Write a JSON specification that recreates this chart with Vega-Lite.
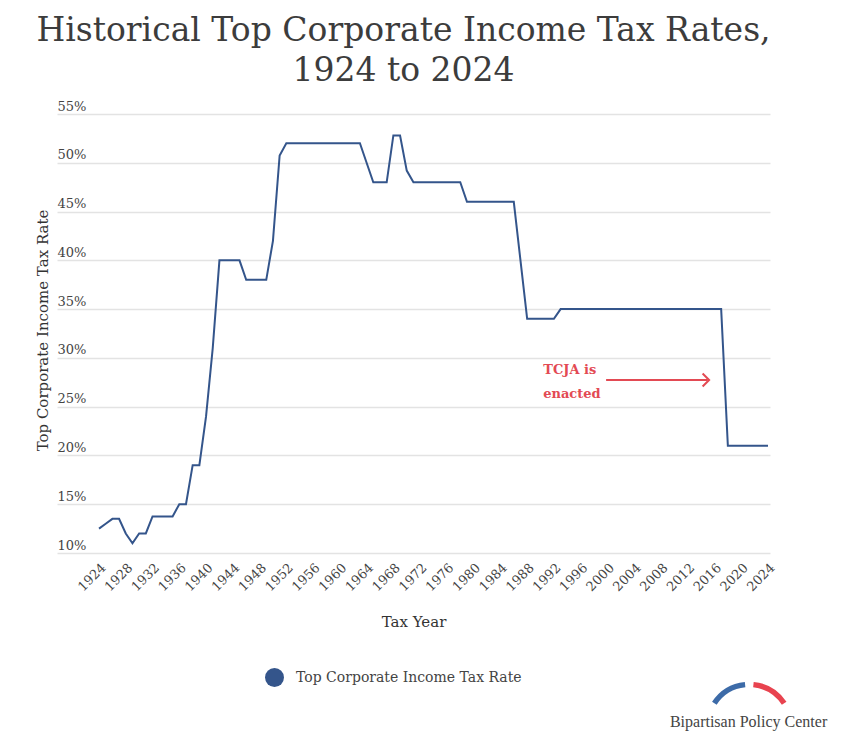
{
  "$schema": "https://vega.github.io/schema/vega-lite/v6.json",
  "width": 713,
  "height": 439,
  "autosize": {"type": "none"},
  "padding": {"left": 57, "top": 114, "right": 81, "bottom": 187},
  "background": "white",
  "title": {
    "text": ["Historical Top Corporate Income Tax Rates,", "1924 to 2024"],
    "font": "DejaVu Serif",
    "fontSize": 33,
    "fontWeight": "normal",
    "color": "#3c3c3c",
    "lineHeight": 40,
    "anchor": "middle",
    "frame": "group",
    "offset": 12,
    "dx": -10
  },
  "config": {"view": {"stroke": null}, "font": "DejaVu Serif"},
  "layer": [
    {
      "data": {
        "values": [
          {"year": 1924, "rate": 12.5, "series": "Top Corporate Income Tax Rate"},
          {"year": 1925, "rate": 13, "series": "Top Corporate Income Tax Rate"},
          {"year": 1926, "rate": 13.5, "series": "Top Corporate Income Tax Rate"},
          {"year": 1927, "rate": 13.5, "series": "Top Corporate Income Tax Rate"},
          {"year": 1928, "rate": 12, "series": "Top Corporate Income Tax Rate"},
          {"year": 1929, "rate": 11, "series": "Top Corporate Income Tax Rate"},
          {"year": 1930, "rate": 12, "series": "Top Corporate Income Tax Rate"},
          {"year": 1931, "rate": 12, "series": "Top Corporate Income Tax Rate"},
          {"year": 1932, "rate": 13.75, "series": "Top Corporate Income Tax Rate"},
          {"year": 1933, "rate": 13.75, "series": "Top Corporate Income Tax Rate"},
          {"year": 1934, "rate": 13.75, "series": "Top Corporate Income Tax Rate"},
          {"year": 1935, "rate": 13.75, "series": "Top Corporate Income Tax Rate"},
          {"year": 1936, "rate": 15, "series": "Top Corporate Income Tax Rate"},
          {"year": 1937, "rate": 15, "series": "Top Corporate Income Tax Rate"},
          {"year": 1938, "rate": 19, "series": "Top Corporate Income Tax Rate"},
          {"year": 1939, "rate": 19, "series": "Top Corporate Income Tax Rate"},
          {"year": 1940, "rate": 24, "series": "Top Corporate Income Tax Rate"},
          {"year": 1941, "rate": 31, "series": "Top Corporate Income Tax Rate"},
          {"year": 1942, "rate": 40, "series": "Top Corporate Income Tax Rate"},
          {"year": 1943, "rate": 40, "series": "Top Corporate Income Tax Rate"},
          {"year": 1944, "rate": 40, "series": "Top Corporate Income Tax Rate"},
          {"year": 1945, "rate": 40, "series": "Top Corporate Income Tax Rate"},
          {"year": 1946, "rate": 38, "series": "Top Corporate Income Tax Rate"},
          {"year": 1947, "rate": 38, "series": "Top Corporate Income Tax Rate"},
          {"year": 1948, "rate": 38, "series": "Top Corporate Income Tax Rate"},
          {"year": 1949, "rate": 38, "series": "Top Corporate Income Tax Rate"},
          {"year": 1950, "rate": 42, "series": "Top Corporate Income Tax Rate"},
          {"year": 1951, "rate": 50.75, "series": "Top Corporate Income Tax Rate"},
          {"year": 1952, "rate": 52, "series": "Top Corporate Income Tax Rate"},
          {"year": 1953, "rate": 52, "series": "Top Corporate Income Tax Rate"},
          {"year": 1954, "rate": 52, "series": "Top Corporate Income Tax Rate"},
          {"year": 1955, "rate": 52, "series": "Top Corporate Income Tax Rate"},
          {"year": 1956, "rate": 52, "series": "Top Corporate Income Tax Rate"},
          {"year": 1957, "rate": 52, "series": "Top Corporate Income Tax Rate"},
          {"year": 1958, "rate": 52, "series": "Top Corporate Income Tax Rate"},
          {"year": 1959, "rate": 52, "series": "Top Corporate Income Tax Rate"},
          {"year": 1960, "rate": 52, "series": "Top Corporate Income Tax Rate"},
          {"year": 1961, "rate": 52, "series": "Top Corporate Income Tax Rate"},
          {"year": 1962, "rate": 52, "series": "Top Corporate Income Tax Rate"},
          {"year": 1963, "rate": 52, "series": "Top Corporate Income Tax Rate"},
          {"year": 1964, "rate": 50, "series": "Top Corporate Income Tax Rate"},
          {"year": 1965, "rate": 48, "series": "Top Corporate Income Tax Rate"},
          {"year": 1966, "rate": 48, "series": "Top Corporate Income Tax Rate"},
          {"year": 1967, "rate": 48, "series": "Top Corporate Income Tax Rate"},
          {"year": 1968, "rate": 52.8, "series": "Top Corporate Income Tax Rate"},
          {"year": 1969, "rate": 52.8, "series": "Top Corporate Income Tax Rate"},
          {"year": 1970, "rate": 49.2, "series": "Top Corporate Income Tax Rate"},
          {"year": 1971, "rate": 48, "series": "Top Corporate Income Tax Rate"},
          {"year": 1972, "rate": 48, "series": "Top Corporate Income Tax Rate"},
          {"year": 1973, "rate": 48, "series": "Top Corporate Income Tax Rate"},
          {"year": 1974, "rate": 48, "series": "Top Corporate Income Tax Rate"},
          {"year": 1975, "rate": 48, "series": "Top Corporate Income Tax Rate"},
          {"year": 1976, "rate": 48, "series": "Top Corporate Income Tax Rate"},
          {"year": 1977, "rate": 48, "series": "Top Corporate Income Tax Rate"},
          {"year": 1978, "rate": 48, "series": "Top Corporate Income Tax Rate"},
          {"year": 1979, "rate": 46, "series": "Top Corporate Income Tax Rate"},
          {"year": 1980, "rate": 46, "series": "Top Corporate Income Tax Rate"},
          {"year": 1981, "rate": 46, "series": "Top Corporate Income Tax Rate"},
          {"year": 1982, "rate": 46, "series": "Top Corporate Income Tax Rate"},
          {"year": 1983, "rate": 46, "series": "Top Corporate Income Tax Rate"},
          {"year": 1984, "rate": 46, "series": "Top Corporate Income Tax Rate"},
          {"year": 1985, "rate": 46, "series": "Top Corporate Income Tax Rate"},
          {"year": 1986, "rate": 46, "series": "Top Corporate Income Tax Rate"},
          {"year": 1987, "rate": 40, "series": "Top Corporate Income Tax Rate"},
          {"year": 1988, "rate": 34, "series": "Top Corporate Income Tax Rate"},
          {"year": 1989, "rate": 34, "series": "Top Corporate Income Tax Rate"},
          {"year": 1990, "rate": 34, "series": "Top Corporate Income Tax Rate"},
          {"year": 1991, "rate": 34, "series": "Top Corporate Income Tax Rate"},
          {"year": 1992, "rate": 34, "series": "Top Corporate Income Tax Rate"},
          {"year": 1993, "rate": 35, "series": "Top Corporate Income Tax Rate"},
          {"year": 1994, "rate": 35, "series": "Top Corporate Income Tax Rate"},
          {"year": 1995, "rate": 35, "series": "Top Corporate Income Tax Rate"},
          {"year": 1996, "rate": 35, "series": "Top Corporate Income Tax Rate"},
          {"year": 1997, "rate": 35, "series": "Top Corporate Income Tax Rate"},
          {"year": 1998, "rate": 35, "series": "Top Corporate Income Tax Rate"},
          {"year": 1999, "rate": 35, "series": "Top Corporate Income Tax Rate"},
          {"year": 2000, "rate": 35, "series": "Top Corporate Income Tax Rate"},
          {"year": 2001, "rate": 35, "series": "Top Corporate Income Tax Rate"},
          {"year": 2002, "rate": 35, "series": "Top Corporate Income Tax Rate"},
          {"year": 2003, "rate": 35, "series": "Top Corporate Income Tax Rate"},
          {"year": 2004, "rate": 35, "series": "Top Corporate Income Tax Rate"},
          {"year": 2005, "rate": 35, "series": "Top Corporate Income Tax Rate"},
          {"year": 2006, "rate": 35, "series": "Top Corporate Income Tax Rate"},
          {"year": 2007, "rate": 35, "series": "Top Corporate Income Tax Rate"},
          {"year": 2008, "rate": 35, "series": "Top Corporate Income Tax Rate"},
          {"year": 2009, "rate": 35, "series": "Top Corporate Income Tax Rate"},
          {"year": 2010, "rate": 35, "series": "Top Corporate Income Tax Rate"},
          {"year": 2011, "rate": 35, "series": "Top Corporate Income Tax Rate"},
          {"year": 2012, "rate": 35, "series": "Top Corporate Income Tax Rate"},
          {"year": 2013, "rate": 35, "series": "Top Corporate Income Tax Rate"},
          {"year": 2014, "rate": 35, "series": "Top Corporate Income Tax Rate"},
          {"year": 2015, "rate": 35, "series": "Top Corporate Income Tax Rate"},
          {"year": 2016, "rate": 35, "series": "Top Corporate Income Tax Rate"},
          {"year": 2017, "rate": 35, "series": "Top Corporate Income Tax Rate"},
          {"year": 2018, "rate": 21, "series": "Top Corporate Income Tax Rate"},
          {"year": 2019, "rate": 21, "series": "Top Corporate Income Tax Rate"},
          {"year": 2020, "rate": 21, "series": "Top Corporate Income Tax Rate"},
          {"year": 2021, "rate": 21, "series": "Top Corporate Income Tax Rate"},
          {"year": 2022, "rate": 21, "series": "Top Corporate Income Tax Rate"},
          {"year": 2023, "rate": 21, "series": "Top Corporate Income Tax Rate"},
          {"year": 2024, "rate": 21, "series": "Top Corporate Income Tax Rate"}
        ]
      },
      "mark": {"type": "line", "strokeWidth": 2},
      "encoding": {
        "x": {
          "field": "year",
          "type": "quantitative",
          "scale": {"domain": [1917.72, 2024.3], "nice": false, "zero": false},
          "axis": {
            "title": "Tax Year",
            "values": [1924, 1928, 1932, 1936, 1940, 1944, 1948, 1952, 1956, 1960, 1964, 1968, 1972, 1976, 1980, 1984, 1988, 1992, 1996, 2000, 2004, 2008, 2012, 2016, 2020, 2024],
            "tickCount": 40,
            "format": "d",
            "labelAngle": -45,
            "labelOverlap": false,
            "labelBound": false,
            "labelFlush": false,
            "grid": false,
            "domain": false,
            "ticks": false,
            "tickSize": 0,
            "labelFont": "DejaVu Serif",
            "labelFontSize": 13,
            "labelColor": "#444444",
            "labelPadding": 8,
            "titleFont": "DejaVu Serif",
            "titleFontSize": 15,
            "titleFontWeight": "normal",
            "titleColor": "#333333",
            "titlePadding": 21
          }
        },
        "y": {
          "field": "rate",
          "type": "quantitative",
          "scale": {"domain": [10, 55], "nice": false, "zero": false},
          "axis": {
            "title": "Top Corporate Income Tax Rate",
            "values": [10, 15, 20, 25, 30, 35, 40, 45, 50, 55],
            "tickCount": 20,
            "labelExpr": "datum.value + '%'",
            "grid": true,
            "gridColor": "#e3e3e3",
            "gridWidth": 1.5,
            "domain": false,
            "ticks": false,
            "tickSize": 0,
            "labelAlign": "left",
            "labelBaseline": "alphabetic",
            "labelPadding": 0,
            "labelOffset": -4,
            "labelFont": "DejaVu Serif",
            "labelFontSize": 13,
            "labelColor": "#444444",
            "titleFont": "DejaVu Serif",
            "titleFontSize": 15,
            "titleFontWeight": "normal",
            "titleColor": "#333333",
            "titleX": -15,
            "titleY": 216,
            "titleBaseline": "middle"
          }
        },
        "color": {
          "field": "series",
          "type": "nominal",
          "scale": {"range": ["#34558b"]},
          "legend": {
            "orient": "none",
            "legendX": 208,
            "legendY": 554,
            "title": null,
            "symbolType": "circle",
            "symbolSize": 361,
            "symbolStrokeWidth": 0,
            "symbolFillColor": "#34558b",
            "labelFont": "DejaVu Serif",
            "labelFontSize": 14,
            "labelColor": "#444444",
            "labelOffset": 12,
            "labelLimit": 400
          }
        }
      }
    },
    {
      "data": {"values": [{}]},
      "mark": {"type": "text", "text": ["TCJA is", "enacted"], "align": "left", "baseline": "alphabetic", "font": "DejaVu Serif", "fontSize": 13, "fontWeight": "bold", "color": "#e34a53", "lineHeight": 24},
      "encoding": {"x": {"datum": 1990.4, "type": "quantitative"}, "y": {"datum": 28.35, "type": "quantitative"}}
    },
    {
      "data": {"values": [{}]},
      "mark": {"type": "rule", "color": "#e34a53", "strokeWidth": 2},
      "encoding": {"x": {"datum": 1999.8, "type": "quantitative"}, "x2": {"datum": 2015.0}, "y": {"datum": 27.73, "type": "quantitative"}}
    },
    {
      "data": {"values": [{}]},
      "mark": {"type": "point", "shape": "M-1,-1L0,0L-1,1", "filled": false, "stroke": "#e34a53", "strokeWidth": 2, "size": 170, "opacity": 1},
      "encoding": {"x": {"datum": 2015.2, "type": "quantitative"}, "y": {"datum": 27.73, "type": "quantitative"}}
    },
    {
      "data": {"values": [{}]},
      "mark": {"type": "text", "text": "Bipartisan Policy Center", "align": "center", "baseline": "alphabetic", "font": "Liberation Serif", "fontSize": 16, "color": "#444444"},
      "encoding": {"x": {"datum": 2021.1, "type": "quantitative"}, "y": {"datum": -7.8, "type": "quantitative"}}
    },
    {
      "data": {"values": [{}]},
      "mark": {"type": "arc", "theta": -0.99, "theta2": -0.1, "innerRadius": 39, "outerRadius": 44.5, "color": "#3d6ba8"},
      "encoding": {"x": {"datum": 2021.2, "type": "quantitative"}, "y": {"datum": -7.75, "type": "quantitative"}}
    },
    {
      "data": {"values": [{}]},
      "mark": {"type": "arc", "theta": 0.1, "theta2": 0.99, "innerRadius": 39, "outerRadius": 44.5, "color": "#e8434f"},
      "encoding": {"x": {"datum": 2021.2, "type": "quantitative"}, "y": {"datum": -7.75, "type": "quantitative"}}
    }
  ]
}
